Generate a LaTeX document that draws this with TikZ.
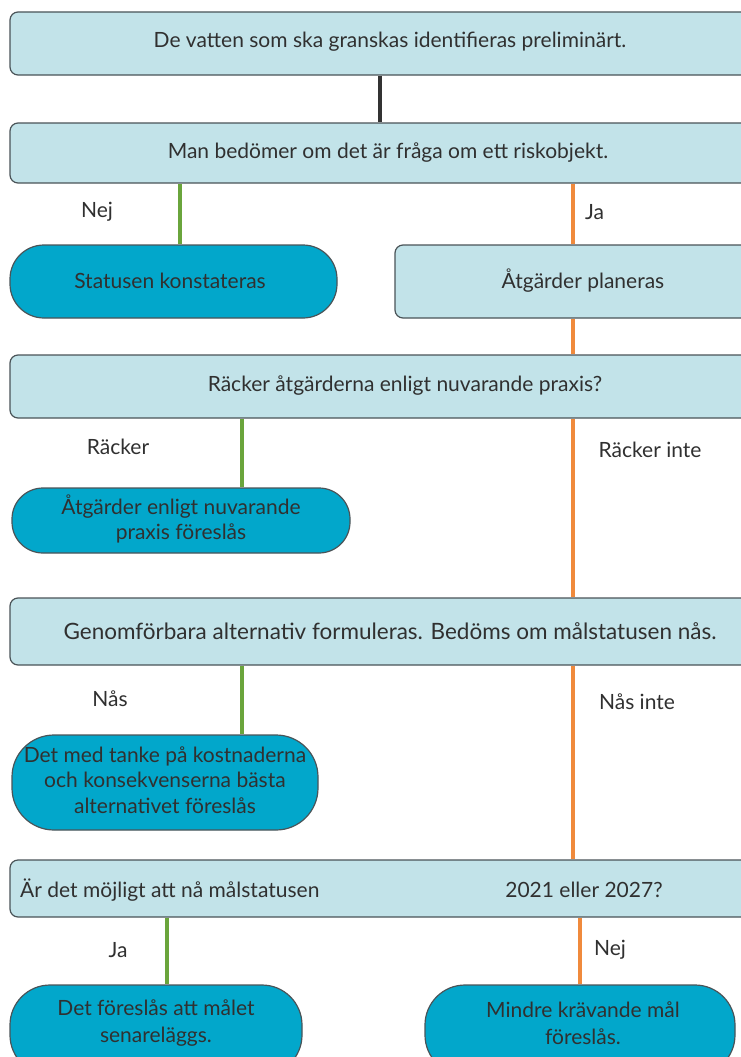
\documentclass[tikz,border=0pt]{standalone}
\usepackage{fontspec}
\setmainfont{Lato}
\definecolor{lightbox}{HTML}{C2E3E9}
\definecolor{darkbox}{HTML}{02A7CB}
\definecolor{edgecol}{HTML}{4A5458}
\definecolor{lgreen}{HTML}{6AA53C}
\definecolor{lorange}{HTML}{F08A3C}
\definecolor{txt}{HTML}{303030}
\tikzset{
  lbox/.style={draw=edgecol, fill=lightbox, rounded corners=8pt, line width=1.2pt, inner sep=0pt},
  dbox/.style={draw=edgecol, fill=darkbox, line width=1.2pt, inner sep=0pt, align=center, text=txt},
  lbl/.style={text=txt, inner sep=0pt, font=\fontsize{21}{25}\selectfont},
  gline/.style={draw=lgreen, line width=3.4pt},
  oline/.style={draw=lorange, line width=3.4pt},
  kline/.style={draw=black!80, line width=3.4pt}
}
\begin{document}
\begin{tikzpicture}[x=1pt,y=-1pt]
\useasboundingbox (0,0) rectangle (741,1057);
\fill[white] (0,0) rectangle (741,1057);
\clip (0,0) rectangle (741,1057);
% column coordinates
\coordinate (kx) at (380,0);
\coordinate (gx1) at (180,0);
\coordinate (gx2) at (242,0);
\coordinate (gx3) at (167,0);
\coordinate (ox1) at (573,0);
\coordinate (ox2) at (580,0);
% boxes
\node[lbox, minimum width=760pt, minimum height=63pt] (b1) at (390,43.5) {};
\node[lbox, minimum width=760pt, minimum height=60pt] (b2) at (390,153) {};
\node[lbox, minimum width=385pt, minimum height=73pt] (b2r) at (587.5,281.5) {};
\node[lbox, minimum width=760pt, minimum height=63pt] (b3) at (390,386.5) {};
\node[lbox, minimum width=760pt, minimum height=67pt] (b4) at (390,631.5) {};
\node[lbox, minimum width=760pt, minimum height=57pt] (b5) at (390,888.5) {};
% dark stadium boxes
\node[dbox, rounded corners=34pt, minimum width=327pt, minimum height=73pt] (s1) at (173.5,281.5) {};
\node[dbox, rounded corners=31pt, minimum width=338pt, minimum height=65pt] (s2) at (181,520.5) {};
\node[dbox, rounded corners=42pt, minimum width=306pt, minimum height=95pt] (s3) at (165,782.5) {};
\node[dbox, rounded corners=40pt, minimum width=292pt, minimum height=90pt] (s4) at (156,1030) {};
\node[dbox, rounded corners=40pt, minimum width=310pt, minimum height=90pt] (s5) at (580,1030) {};
% texts in boxes
\node[lbl] (t1) at (390,42) {De vatten som ska granskas identifieras preliminärt.};
\node[lbl] (t2) at (388,153) {Man bedömer om det är fråga om ett riskobjekt.};
\node[lbl] (t2r) at (583,281) {Åtgärder planeras};
\node[lbl] (t3) at (405,386) {Räcker åtgärderna enligt nuvarande praxis?};
\node[lbl, font=\fontsize{22.5}{25}\selectfont] (t4) at (390,631) {Genomförbara alternativ formuleras. Bedöms om målstatusen nås.};
\node[lbl, anchor=west] (t5a) at (20,890) {Är det möjligt att nå målstatusen};
\node[lbl] (t5b) at (584,890) {2021 eller 2027?};
\node[lbl] (ts1) at (170,281) {Statusen konstateras};
\node[lbl, align=center, font=\fontsize{21}{25}\selectfont] (ts2) at (181,518.5) {Åtgärder enligt nuvarande\\praxis föreslås};
\node[lbl, align=center, font=\fontsize{21}{25.5}\selectfont] (ts3) at (165,780) {Det med tanke på kostnaderna\\och konsekvenserna bästa\\alternativet föreslås};
\node[lbl, align=center, font=\fontsize{21}{27}\selectfont] (ts4) at (156,1023.5) {Det föreslås att målet\\senareläggs.};
\node[lbl, align=center, font=\fontsize{21}{27}\selectfont] (ts5) at (583,1023.5) {Mindre krävande mål\\föreslås.};
% connectors
\draw[kline] (b1.south -| kx) -- (b2.north -| kx);
\draw[gline] (b2.south -| gx1) -- (s1.north -| gx1);
\draw[oline] (b2.south -| ox1) -- (b2r.north -| ox1);
\draw[oline] (b2r.south -| ox1) -- (b3.north -| ox1);
\draw[gline] (b3.south -| gx2) -- (s2.north -| gx2);
\draw[oline] (b3.south -| ox1) -- (b4.north -| ox1);
\draw[gline] (b4.south -| gx2) -- (s3.north -| gx2);
\draw[oline] (b4.south -| ox1) -- (b5.north -| ox1);
\draw[gline] (b5.south -| gx3) -- (s4.north -| gx3);
\draw[oline] (b5.south -| ox2) -- (s5.north -| ox2);
% edge labels
\node[lbl] (l1) at (97,212) {Nej};
\node[lbl, anchor=west] (l2) at (585,212) {Ja};
\node[lbl] (l3) at (118,447) {Räcker};
\node[lbl] (l4) at (650,450) {Räcker inte};
\node[lbl] (l5) at (110,699) {Nås};
\node[lbl] (l6) at (637,702) {Nås inte};
\node[lbl] (l7) at (118,950) {Ja};
\node[lbl] (l8) at (610,950) {Nej};
\end{tikzpicture}
\end{document}
